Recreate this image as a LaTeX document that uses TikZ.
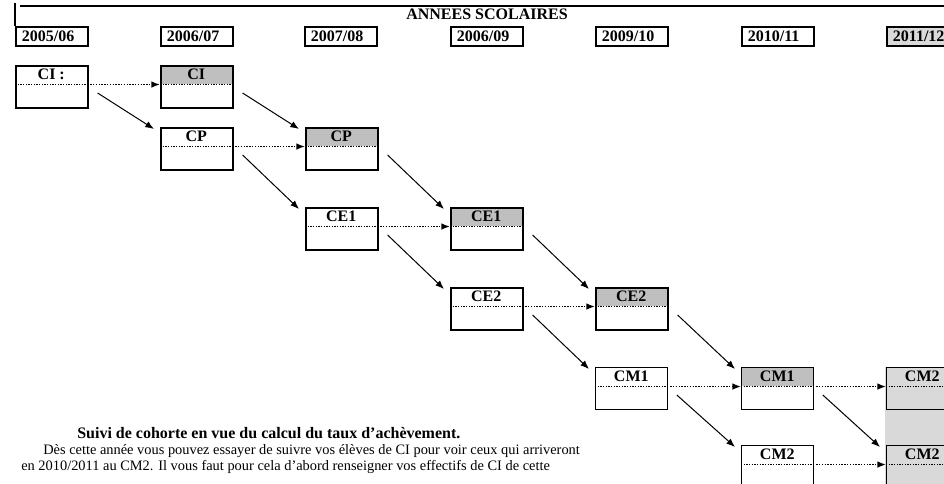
\documentclass[tikz,border=0pt]{standalone}
\usepackage{fontspec}
\setmainfont{Liberation Serif}
\usetikzlibrary{arrows.meta}

\begin{document}
\begin{tikzpicture}[x=0.75pt,y=-0.75pt,>={Latex[length=6.5pt,width=5pt]}]
  \tikzstyle{gras}=[font=\fontsize{12}{14}\selectfont\bfseries]
  \tikzstyle{annee}=[gras,draw,line width=1.3pt,anchor=north west,minimum height=14.25pt,text width=45pt,inner xsep=4.5pt,inner ysep=0pt]
  \tikzstyle{entete}=[gras,anchor=north west,minimum width=54pt,minimum height=14.25pt,inner sep=0pt]
  \tikzstyle{classe}=[draw,anchor=north west,minimum width=54pt,minimum height=31.5pt,inner sep=0pt]
  \tikzstyle{suivant}=[->,densely dotted,line width=1.1pt,shorten <=2pt]
  \tikzstyle{passage}=[->,line width=0.75pt]
  \tikzstyle{texte}=[anchor=base west,inner sep=0pt,font=\fontsize{10.8}{13}\selectfont]

  \useasboundingbox (0,0) rectangle (944,484);

  % Colonne 2011/12 grisee
  \fill[gray!30] (885,367) rectangle (960,490);

  % Cadre et titre
  \draw[line width=1.3pt] (15,3) -- (15,26);
  \draw[line width=1.3pt] (20,6) -- (960,6);
  \node[gras,inner sep=0pt] (titre) at (487,14.5) {ANNEES SCOLAIRES};

  % Annees scolaires
  \foreach \x/\an in {15/{2005/06},160/{2006/07},304/{2007/08},450/{2006/09},595/{2009/10},741/{2010/11}}
    \node[annee] (an\x) at (\x,26) {\an};
  \node[annee,fill=gray!30] (an886) at (886,26) {2011/12};

  % Classes
  \foreach \nom/\x/\y/\txt/\fond/\ep in {
      ci0/15/65/{CI :}/white/1.2pt, ci1/160/65/CI/gray!50/1.2pt,
      cp1/160/127/CP/white/1.2pt, cp2/305/127/CP/gray!50/1.2pt,
      ce1a/305/207/CE1/white/1.2pt, ce1b/450/207/CE1/gray!50/1.2pt,
      ce2a/450/287/CE2/white/1.2pt, ce2b/595/287/CE2/gray!50/1.2pt,
      cm1a/595/367/CM1/white/0.6pt, cm1b/741/367/CM1/gray!50/0.6pt,
      cm2a/741/445/CM2/white/0.6pt, cm2b/886/367/CM2/gray!30/0.6pt,
      cm2c/886/445/CM2/gray!30/0.6pt}
  {
    \node[entete,fill=\fond] (\nom-t) at (\x,\y) {\txt};
    \node[classe,line width=\ep] (\nom) at (\x,\y) {};
    \draw[densely dotted,line width=1pt] (\nom-t.south west) -- (\nom-t.south east);
  }

  % Meme classe l'annee suivante
  \foreach \a/\b in {ci0/ci1,cp1/cp2,ce1a/ce1b,ce2a/ce2b,cm1a/cm1b,cm1b/cm2b,cm2a/cm2c}
    \draw[suivant] (\a-t.south east) -- (\b-t.south west);

  % Passage en classe superieure
  \foreach \a/\b in {ci0/cp1,ci1/cp2,cp1/ce1a,cp2/ce1b,ce1a/ce2a,ce1b/ce2b,ce2a/cm1a,ce2b/cm1b,cm1a/cm2a,cm1b/cm2c}
    \draw[passage] ([shift={(9,28)}]\a.north east) -- ([shift={(-6,2)}]\b.north west);

  % Texte
  \node[texte,gras] (suivi) at (77,438) {Suivi de cohorte en vue du calcul du taux d’achèvement.};
  \node[texte] (ligne1) at (43,454) {Dès cette année vous pouvez essayer de suivre vos élèves de CI pour voir ceux qui arriveront};
  \node[texte] (ligne2) at (21,470) {en 2010/2011 au CM2. Il vous faut pour cela d’abord renseigner vos effectifs de CI de cette};
\end{tikzpicture}
\end{document}
